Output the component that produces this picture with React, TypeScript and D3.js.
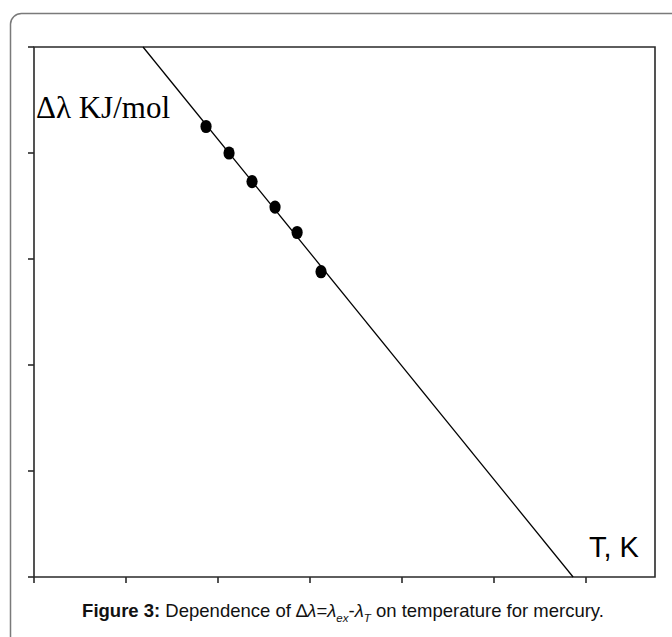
import React from "react";
import * as d3 from "d3";

// Data (arbitrary units; the original chart has no tick labels)
const xTicks = [0, 1, 2, 3, 4, 5, 6];
const yTicks = [0, 1, 2, 3, 4, 5];
const pointsX = [1.87, 2.12, 2.37, 2.62, 2.86, 3.12];
const pointsY = [4.25, 4.0, 3.73, 3.49, 3.25, 2.88];
const fitX = [1.185, 5.86];
const fitY = [5, 0];

const W = 672;
const H = 637;
const margin = { left: 34, top: 47, right: 655, bottom: 577 };

export default function App() {
  const x = d3.scaleLinear().domain([0, 6.75]).range([margin.left, margin.right]);
  const y = d3.scaleLinear().domain([0, 5]).range([margin.bottom, margin.top]);
  const line = d3
    .line<number>()
    .x((_, i) => x(fitX[i]))
    .y((_, i) => y(fitY[i]));
  const axisColor = "#2a2a2a";
  return (
    <svg
      width={W}
      height={H}
      style={{ position: "absolute", left: 0, top: 0, background: "#fff" }}
    >
      {/* outer frame */}
      <path
        d={`M10.5 ${H + 5} L10.5 24 A11 11 0 0 1 21.5 13.5 L${W + 5} 13.5`}
        fill="none"
        stroke="#7a7a7a"
        strokeWidth={1.5}
      />
      {/* plot box */}
      <path
        d={`M${margin.left} ${margin.bottom} L${margin.left} ${margin.top} L${margin.right} ${margin.top} L${margin.right} ${margin.bottom} Z`}
        fill="none"
        stroke={axisColor}
        strokeWidth={1.6}
      />
      {yTicks.map((t) => (
        <line
          key={"y" + t}
          x1={margin.left - 6}
          x2={margin.left}
          y1={y(t)}
          y2={y(t)}
          stroke={axisColor}
          strokeWidth={1.6}
        />
      ))}
      {xTicks.map((t) => (
        <line
          key={"x" + t}
          x1={x(t)}
          x2={x(t)}
          y1={margin.bottom}
          y2={margin.bottom + 6}
          stroke={axisColor}
          strokeWidth={1.6}
        />
      ))}
      <path d={line(fitX) || ""} fill="none" stroke="#000" strokeWidth={1.3} />
      {pointsX.map((px, i) => (
        <ellipse key={i} cx={x(px)} cy={y(pointsY[i])} rx={5.6} ry={6.6} fill="#000" />
      ))}
      <text
        x={36}
        y={118}
        fontFamily="'Liberation Serif', 'Times New Roman', serif"
        fontSize={31}
        fill="#000"
      >
        Δλ KJ/mol
      </text>
      <text
        x={589}
        y={557}
        fontFamily="'Liberation Sans', Arial, sans-serif"
        fontSize={29}
        fill="#000"
      >
        T, K
      </text>
      <text
        x={343}
        y={617}
        textAnchor="middle"
        fontFamily="'Liberation Sans', Arial, sans-serif"
        fontSize={18.5}
        fill="#111"
      >
        <tspan fontWeight="bold">Figure 3:</tspan>
        <tspan> Dependence of ∆</tspan>
        <tspan fontStyle="italic">λ</tspan>
        <tspan>=</tspan>
        <tspan fontStyle="italic">λ</tspan>
        <tspan fontStyle="italic" fontSize={11.5} dy={4.5}>ex</tspan>
        <tspan dy={-4.5}>-</tspan>
        <tspan fontStyle="italic">λ</tspan>
        <tspan fontStyle="italic" fontSize={11.5} dy={4.5}>T</tspan>
        <tspan dy={-4.5}> on temperature for mercury.</tspan>
      </text>
    </svg>
  );
}
